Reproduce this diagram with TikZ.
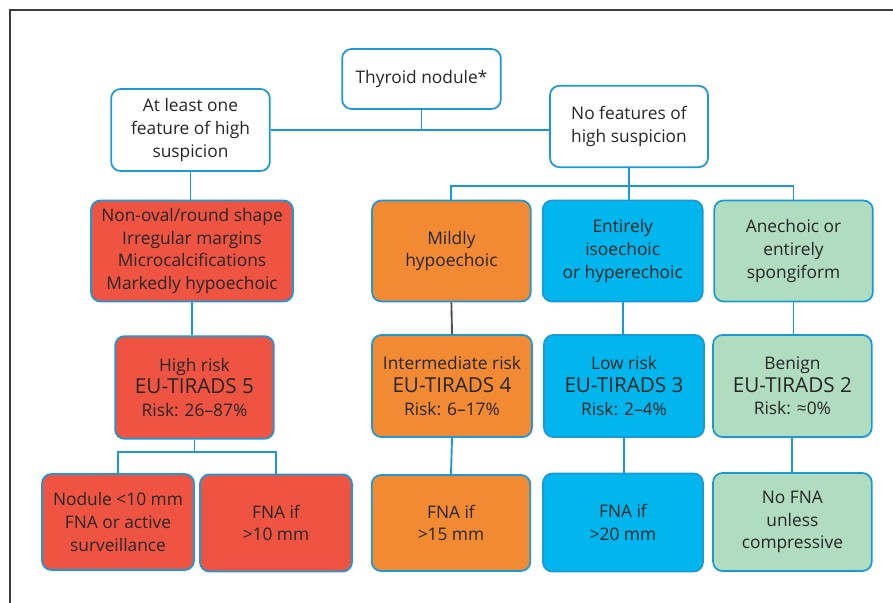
\documentclass[tikz,border=0pt]{standalone}
\usepackage{fontspec}
\setmainfont{Open Sans}
\definecolor{edgeblue}{RGB}{27,152,214}
\definecolor{redfill}{RGB}{239,84,66}
\definecolor{orangefill}{RGB}{242,138,52}
\definecolor{bluefill}{RGB}{0,182,236}
\definecolor{greenfill}{RGB}{176,220,192}
\definecolor{txt}{RGB}{38,38,38}
\definecolor{framegray}{RGB}{60,60,60}
\newcommand{\tirads}[1]{{\fontsize{15.5}{17}\selectfont EU-TIRADS #1}}
\begin{document}
\begin{tikzpicture}[x=0.75pt,y=-0.75pt,
  box/.style={draw=edgeblue,line width=1.3pt,rounded corners=7pt,align=center,
    text=txt,font=\fontsize{13}{17}\selectfont,inner sep=2pt},
  link/.style={draw=edgeblue,line width=1.4pt}]
\useasboundingbox (0,0) rectangle (893,603);
% FRAME
\draw [framegray,line width=0.9pt] (10,603) -- (10,10) -- (893,10);
% TOP NODES
\node [box,minimum width=119pt,minimum height=45pt] (thy) at (421.5,79) {Thyroid nodule*};
\node [box,minimum width=119pt,minimum height=61.5pt] (atl) at (190.5,130) {At least one\\feature of high\\suspicion};
\node [box,minimum width=118.5pt,minimum height=61pt] (nof) at (629,126.5) {No features of\\high suspicion};
% FEATURES
\node [box,fill=redfill,minimum width=151.5pt,minimum height=75.75pt] (feat5) at (192,251) {Non-oval/round shape\\Irregular margins\\Microcalcifications\\Markedly hypoechoic};
\node [box,fill=orangefill,minimum width=119pt,minimum height=75.75pt] (hyp4) at (451.4,251) {Mildly\\hypoechoic};
\node [box,fill=bluefill,minimum width=120pt,minimum height=75.75pt] (iso3) at (622.7,251) {Entirely\\isoechoic\\or hyperechoic};
\node [box,fill=greenfill,minimum width=119pt,minimum height=75.75pt] (ane2) at (793.5,251) {Anechoic or\\entirely\\spongiform};
% RISK CLASSES
\node [box,fill=redfill,minimum width=119pt,minimum height=77pt] (risk5) at (194.5,387.5) {High risk\\\tirads{5}\\Risk: 26--87\%};
\node [box,fill=orangefill,minimum width=120pt,minimum height=76.5pt] (risk4) at (452,386) {Intermediate risk\\\tirads{4}\\Risk: 6--17\%};
\node [box,fill=bluefill,minimum width=120pt,minimum height=76.5pt] (risk3) at (624,386) {Low risk\\\tirads{3}\\Risk: 2--4\%};
\node [box,fill=greenfill,minimum width=119pt,minimum height=76.5pt] (risk2) at (792.4,386) {Benign\\\tirads{2}\\Risk: ≈0\%};
% FNA ADVICE
\node [box,fill=redfill,minimum width=114pt,minimum height=72pt] (fna5a) at (118,522) {Nodule <10 mm\\FNA or active\\surveillance};
\node [box,fill=redfill,minimum width=114pt,minimum height=72.75pt] (fna5b) at (276,523) {FNA if\\>10 mm};
\node [box,fill=orangefill,minimum width=119pt,minimum height=72pt] (fna4) at (451,523) {FNA if\\>15 mm};
\node [box,fill=bluefill,minimum width=120pt,minimum height=73.5pt] (fna3) at (623,522.5) {FNA if\\>20 mm};
\node [box,fill=greenfill,minimum width=119pt,minimum height=73.5pt] (fna2) at (792.4,522) {No FNA\\unless\\compressive};
% CONNECTORS
\draw [link] (thy.south) -- (thy.south |- atl.east);
\draw [link] (atl.east) -- (atl.east -| nof.west);
\draw [link] (atl.south) -- (atl.south |- feat5.north);
\coordinate (nbus) at (628.7,186);
\draw [link] (nof.south) -- (nof.south |- iso3.north);
\draw [link] (hyp4.north) |- (nbus) -| (ane2.north);
\draw [link] (feat5.south) -- (feat5.south |- risk5.north);
\draw [draw=framegray!90,line width=1.4pt] (hyp4.south) -- (risk4.north);
\draw [link] (iso3.south) -- (iso3.south |- risk3.north);
\draw [link] (ane2.south) -- (ane2.south |- risk2.north);
\coordinate (fbus) at (196.7,452);
\draw [link] (risk5.south) -- (risk5.south |- fbus);
\draw [link] (fna5a.north) |- (fbus) -| (fna5b.north);
\draw [link] (risk4.south) -- (fna4.north);
\draw [link] (risk3.south) -- (risk3.south |- fna3.north);
\draw [link] (risk2.south) -- (risk2.south |- fna2.north);
\end{tikzpicture}
\end{document}
